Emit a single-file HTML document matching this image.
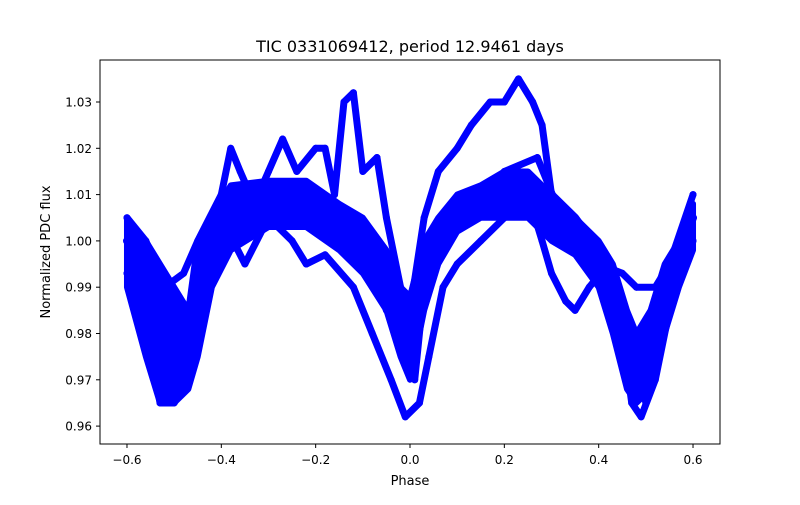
<!DOCTYPE html>
<html><head><meta charset="utf-8"><style>
body{margin:0;background:#fff;font-family:"Liberation Sans","DejaVu Sans",sans-serif}
svg text{font-family:"DejaVu Sans","Liberation Sans",sans-serif;fill:#000}
</style></head><body>
<svg id="chart" width="800" height="500" viewBox="0 0 800 500">
<rect x="0" y="0" width="800" height="500" fill="#fff"/>
<text x="410" y="52" font-size="16" text-anchor="middle">TIC 0331069412, period 12.9461 days</text>
<g id="marks"></g>
<rect x="100" y="60" width="620" height="384" fill="none" stroke="#000" stroke-width="1"/>
<g id="axes"></g>
<text x="410" y="485" font-size="13" text-anchor="middle">Phase</text>
<text transform="translate(50,252) rotate(-90)" font-size="13" text-anchor="middle">Normalized PDC flux</text>
</svg>
<script>
const xTicks=[-0.6,-0.4,-0.2,0.0,0.2,0.4,0.6];
const xTickLabels=["−0.6","−0.4","−0.2","0.0","0.2","0.4","0.6"];
const yTicks=[0.96,0.97,0.98,0.99,1.00,1.01,1.02,1.03];
const yTickLabels=["0.96","0.97","0.98","0.99","1.00","1.01","1.02","1.03"];
const phaseE=[-0.6,-0.56,-0.53,-0.5,-0.47,-0.45,-0.42,-0.38,-0.3,-0.22,-0.15,-0.1,-0.05,-0.02,0,0.03,0.06,0.1,0.15,0.2,0.25,0.3,0.35,0.4,0.43,0.46,0.48,0.51,0.54,0.57,0.6];
const fluxHigh=[1.005,1.0,0.995,0.99,0.985,1.0,1.005,1.012,1.013,1.013,1.008,1.005,0.998,0.99,0.988,1.0,1.005,1.01,1.012,1.015,1.015,1.01,1.005,1.0,0.995,0.985,0.98,0.985,0.995,1.0,1.008];
const fluxLow=[0.99,0.975,0.965,0.965,0.968,0.975,0.99,0.998,1.003,1.003,0.998,0.993,0.985,0.975,0.97,0.985,0.995,1.002,1.005,1.005,1.005,1.0,0.997,0.99,0.98,0.968,0.965,0.968,0.98,0.99,0.998];
const phaseA=[-0.6,-0.57,-0.55,-0.52,-0.5,-0.47,-0.45,-0.42,-0.38,-0.3,-0.2,-0.15,-0.1,-0.05,-0.02,0,0.02,0.05,0.1,0.15,0.2,0.25,0.3,0.35,0.4,0.43,0.46,0.48,0.5,0.53,0.55,0.58,0.6];
const fluxA=[1.0,1.0,0.985,0.97,0.968,0.975,0.99,1.0,1.005,1.01,1.01,1.005,1.0,0.99,0.98,0.975,0.985,1.0,1.008,1.01,1.01,1.012,1.01,1.005,0.998,0.99,0.975,0.968,0.968,0.98,0.995,1.0,1.005];
const phaseB=[-0.6,-0.56,-0.52,-0.48,-0.45,-0.4,-0.38,-0.36,-0.33,-0.3,-0.27,-0.24,-0.2,-0.18,-0.16,-0.14,-0.12,-0.1,-0.07,-0.05,-0.02,0,0.03,0.06,0.1,0.13,0.17,0.2,0.23,0.26,0.28,0.3,0.33,0.36,0.4,0.45,0.48,0.52,0.55,0.6];
const fluxB=[1.005,1.0,0.99,0.993,1.0,1.01,1.02,1.015,1.008,1.015,1.022,1.015,1.02,1.02,1.01,1.03,1.032,1.015,1.018,1.005,0.99,0.985,1.005,1.015,1.02,1.025,1.03,1.03,1.035,1.03,1.025,1.01,1.005,1.0,0.995,0.993,0.99,0.99,0.995,1.01];
const phaseC=[-0.6,-0.56,-0.53,-0.5,-0.47,-0.44,-0.4,-0.35,-0.3,-0.25,-0.22,-0.18,-0.12,-0.08,-0.04,-0.01,0.02,0.04,0.07,0.1,0.15,0.2,0.25,0.28,0.3,0.33,0.35,0.38,0.42,0.45,0.47,0.49,0.52,0.55,0.58,0.6];
const fluxC=[0.993,0.985,0.965,0.965,0.97,0.985,1.005,0.995,1.005,1.0,0.995,0.997,0.99,0.98,0.97,0.962,0.965,0.975,0.99,0.995,1.0,1.005,1.01,1.0,0.993,0.987,0.985,0.99,0.995,0.98,0.965,0.962,0.97,0.985,0.995,1.0];
const phaseD=[-0.59,-0.56,-0.54,-0.52,-0.5,-0.48,-0.46,-0.43,-0.38,-0.3,-0.22,-0.15,-0.08,-0.05,-0.03,-0.01,0.01,0.03,0.06,0.12,0.2,0.27,0.33,0.38,0.42,0.44,0.46,0.48,0.5,0.51,0.53,0.56,0.59];
const fluxD=[0.997,0.99,0.975,0.965,0.975,0.985,0.975,0.998,1.0,1.005,1.008,1.0,0.995,0.985,0.99,0.98,0.97,0.99,1.003,1.006,1.015,1.018,1.003,0.995,0.99,0.982,0.97,0.975,0.965,0.975,0.99,0.997,1.003];
const X=v=>410+(v)*471.7;
const Y=v=>102+(1.03-v)*4630;
const NS="http://www.w3.org/2000/svg";
const marks=document.getElementById('marks'), axes=document.getElementById('axes');
const band=document.createElementNS(NS,'polygon');
band.setAttribute('points',phaseE.map((v,i)=>X(v)+','+Y(fluxHigh[i])).concat(phaseE.map((v,i)=>X(v)+','+Y(fluxLow[i])).reverse()).join(' '));
band.setAttribute('fill','#0000ff');band.setAttribute('stroke','#0000ff');band.setAttribute('stroke-width','6');band.setAttribute('stroke-linejoin','round');


marks.appendChild(band);
function trace(ph,fl,w,name){
  const p=document.createElementNS(NS,'polyline');
  p.setAttribute('points',ph.map((v,i)=>X(v)+','+Y(fl[i])).join(' '));
  p.setAttribute('fill','none');p.setAttribute('stroke','#0000ff');
  p.setAttribute('stroke-width',w);p.setAttribute('stroke-linejoin','round');p.setAttribute('stroke-linecap','round');
  
  
  marks.appendChild(p);
  ph.forEach((v,i)=>{
    const c=document.createElementNS(NS,'circle');
    c.setAttribute('cx',X(v));c.setAttribute('cy',Y(fl[i]));c.setAttribute('r',3.5);c.setAttribute('fill','#0000ff');
    
    
    marks.appendChild(c);
  });
}
trace(phaseA,fluxA,8,'trace-main');
trace(phaseD,fluxD,7,'trace-mid');
trace(phaseB,fluxB,7,'trace-upper');
trace(phaseC,fluxC,7,'trace-lower');
xTicks.forEach((v,i)=>{
  const l=document.createElementNS(NS,'line');
  l.setAttribute('x1',X(v));l.setAttribute('x2',X(v));l.setAttribute('y1',444);l.setAttribute('y2',448);l.setAttribute('stroke','#000');
  
  
  axes.appendChild(l);
  const t=document.createElementNS(NS,'text');
  t.setAttribute('x',X(v));t.setAttribute('y',464);t.setAttribute('font-size','12');t.setAttribute('text-anchor','middle');
  t.textContent=xTickLabels[i];
  
  
  axes.appendChild(t);
});
yTicks.forEach((v,i)=>{
  const l=document.createElementNS(NS,'line');
  l.setAttribute('x1',96);l.setAttribute('x2',100);l.setAttribute('y1',Y(v));l.setAttribute('y2',Y(v));l.setAttribute('stroke','#000');
  
  
  axes.appendChild(l);
  const t=document.createElementNS(NS,'text');
  t.setAttribute('x',92);t.setAttribute('y',Y(v)+4.5);t.setAttribute('font-size','12');t.setAttribute('text-anchor','end');
  t.textContent=yTickLabels[i];
  
  
  axes.appendChild(t);
});
</script>
</body></html>
